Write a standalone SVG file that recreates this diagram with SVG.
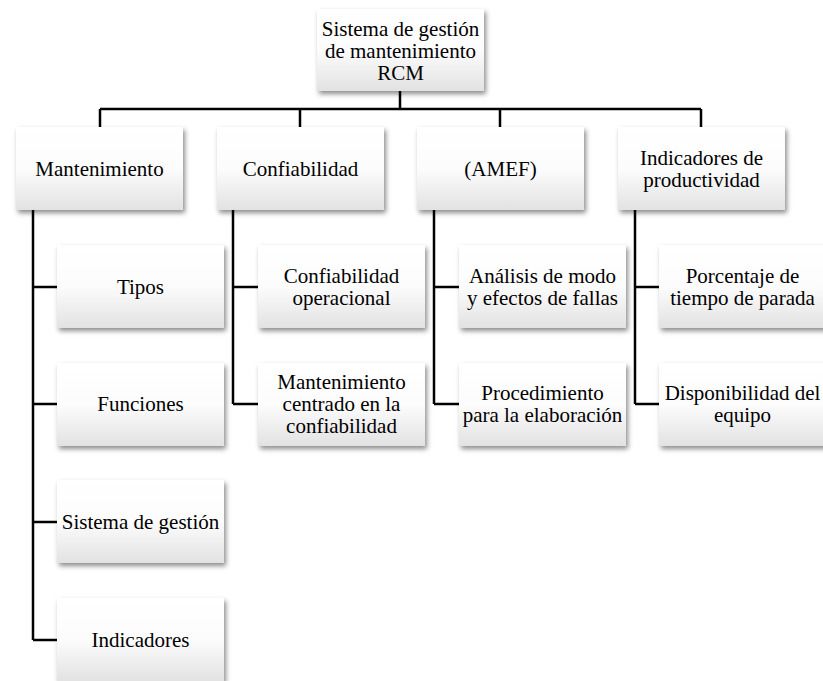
<svg xmlns="http://www.w3.org/2000/svg" width="823" height="681" viewBox="0 0 823 681">
<defs>
<linearGradient id="g" x1="0" y1="0" x2="0" y2="1">
<stop offset="0" stop-color="#ffffff"/>
<stop offset="0.5" stop-color="#fcfcfc"/>
<stop offset="1" stop-color="#e2e2e2"/>
</linearGradient>
<filter id="sh" x="-10%" y="-10%" width="130%" height="140%">
<feDropShadow dx="2" dy="3" stdDeviation="2.5" flood-color="#000" flood-opacity="0.45"/>
</filter>
</defs>
<style>
.box{fill:url(#g);filter:url(#sh);}
.t{font-family:'Liberation Serif','Times New Roman',serif;font-size:21px;fill:#000;text-anchor:middle;}
.c{fill:none;stroke:#000;stroke-width:2.5;}
</style>
<rect width="823" height="681" fill="#fff"/>
<g id="connectors">
<path class="c" d="M400 91 V109 M100 109 H701 M100 109 V127 M300 109 V127 M500 109 V127 M701 109 V127"/>
<path class="c" d="M33 210 V640 M33 287 H57 M33 404 H57 M33 522 H57 M33 640 H57"/>
<path class="c" d="M233 210 V404 M233 287 H258 M233 404 H258"/>
<path class="c" d="M434 210 V404 M434 287 H459 M434 404 H459"/>
<path class="c" d="M635 210 V404 M635 287 H659 M635 404 H659"/>
</g>
<g id="root"><rect class="box" x="317" y="9" width="167" height="82"/>
<text class="t"><tspan x="400.5" y="36">Sistema de gestión</tspan><tspan x="400.5" y="58">de mantenimiento</tspan><tspan x="400.5" y="80">RCM</tspan></text></g>
<g id="mantenimiento"><rect class="box" x="16" y="127" width="167" height="83"/><text class="t" x="99.5" y="176">Mantenimiento</text></g>
<g id="confiabilidad"><rect class="box" x="217" y="127" width="167" height="83"/><text class="t" x="300.5" y="176">Confiabilidad</text></g>
<g id="amef"><rect class="box" x="417" y="127" width="167" height="83"/><text class="t" x="500.5" y="176">(AMEF)</text></g>
<g id="indicadores-prod"><rect class="box" x="618" y="127" width="167" height="83"/><text class="t"><tspan x="701.5" y="165">Indicadores de</tspan><tspan x="701.5" y="187">productividad</tspan></text></g>
<g id="tipos"><rect class="box" x="57" y="245" width="167" height="83"/><text class="t" x="140.5" y="294">Tipos</text></g>
<g id="funciones"><rect class="box" x="57" y="363" width="167" height="83"/><text class="t" x="140.5" y="411">Funciones</text></g>
<g id="sistema-gestion"><rect class="box" x="57" y="480" width="167" height="83"/><text class="t" x="140.5" y="529">Sistema de gestión</text></g>
<g id="indicadores"><rect class="box" x="57" y="598" width="167" height="83"/><text class="t" x="140.5" y="647">Indicadores</text></g>
<g id="conf-operacional"><rect class="box" x="258" y="245" width="167" height="83"/><text class="t"><tspan x="341.5" y="283">Confiabilidad</tspan><tspan x="341.5" y="305">operacional</tspan></text></g>
<g id="mcc"><rect class="box" x="258" y="363" width="167" height="83"/><text class="t"><tspan x="341.5" y="389">Mantenimiento</tspan><tspan x="341.5" y="411">centrado en la</tspan><tspan x="341.5" y="433">confiabilidad</tspan></text></g>
<g id="analisis"><rect class="box" x="459" y="245" width="167" height="83"/><text class="t"><tspan x="542.5" y="283">Análisis de modo</tspan><tspan x="542.5" y="305">y efectos de fallas</tspan></text></g>
<g id="procedimiento"><rect class="box" x="459" y="363" width="167" height="83"/><text class="t"><tspan x="542.5" y="400">Procedimiento</tspan><tspan x="542.5" y="422">para la elaboración</tspan></text></g>
<g id="porcentaje"><rect class="box" x="659" y="245" width="167" height="83"/><text class="t"><tspan x="742.5" y="283">Porcentaje de</tspan><tspan x="742.5" y="305">tiempo de parada</tspan></text></g>
<g id="disponibilidad"><rect class="box" x="659" y="363" width="167" height="83"/><text class="t"><tspan x="742.5" y="400">Disponibilidad del</tspan><tspan x="742.5" y="422">equipo</tspan></text></g>
</svg>
